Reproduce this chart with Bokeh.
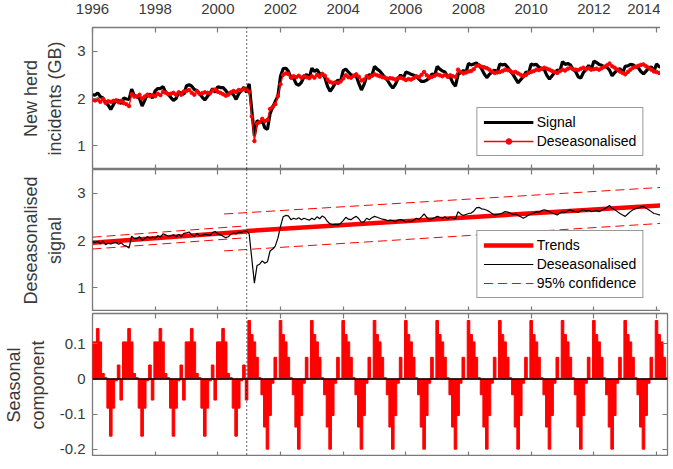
import numpy as np
from bokeh.plotting import figure
from bokeh.layouts import column
from bokeh.models import (Range1d, FixedTicker, LinearAxis, Span, Legend,
                          LegendItem, ColumnDataSource)
from bokeh.embed import file_html
from bokeh.resources import INLINE

# ---------------- data (monthly, starting January 1996) ----------------
START_YEAR = 1996
BREAK_YEAR = 2000.92
YEAR_TICKS = [1996, 1998, 2000, 2002, 2004, 2006, 2008, 2010, 2012, 2014]
Y_TICKS = [1, 2, 3]
SEAS_TICKS = [-0.2, -0.1, 0, 0.1]
SEAS_TICK_LABELS = ["-0.2", "-0.1", "0", "0.1"]

signal = [
    2.08, 2.07, 2.12, 2.04, 2.01, 1.91, 1.86, 1.77, 1.87, 1.96, 1.96, 1.89,
    2.01, 1.99, 1.98, 2.20, 2.06, 2.04, 2.00, 1.84, 1.96, 2.08, 2.09, 2.01,
    2.16, 2.21, 2.21, 2.25, 2.14, 2.09, 2.02, 1.96, 2.00, 2.13, 2.12, 2.09,
    2.27, 2.29, 2.26, 2.19, 2.17, 2.10, 2.03, 1.97, 2.04, 2.11, 2.21, 2.13,
    2.25, 2.23, 2.23, 2.17, 2.10, 2.13, 2.08, 1.98, 2.10, 2.17, 2.24, 2.13,
    2.31, 1.75, 1.21, 1.53, 1.50, 1.53, 1.38, 1.35, 1.68, 1.81, 1.94, 2.05,
    2.47, 2.63, 2.64, 2.58, 2.44, 2.43, 2.31, 2.28, 2.34, 2.46, 2.51, 2.43,
    2.64, 2.57, 2.61, 2.52, 2.52, 2.44, 2.26, 2.15, 2.23, 2.33, 2.39, 2.36,
    2.59, 2.62, 2.56, 2.50, 2.48, 2.47, 2.32, 2.18, 2.30, 2.46, 2.50, 2.48,
    2.68, 2.62, 2.58, 2.51, 2.44, 2.38, 2.29, 2.22, 2.30, 2.42, 2.50, 2.42,
    2.56, 2.54, 2.51, 2.49, 2.47, 2.41, 2.36, 2.36, 2.39, 2.43, 2.52, 2.48,
    2.68, 2.62, 2.58, 2.56, 2.46, 2.45, 2.33, 2.26, 2.51, 2.55, 2.59, 2.55,
    2.74, 2.71, 2.73, 2.75, 2.70, 2.63, 2.52, 2.44, 2.51, 2.56, 2.60, 2.55,
    2.73, 2.71, 2.72, 2.66, 2.58, 2.51, 2.42, 2.33, 2.40, 2.46, 2.56, 2.54,
    2.73, 2.71, 2.72, 2.66, 2.63, 2.61, 2.49, 2.41, 2.48, 2.55, 2.60, 2.58,
    2.78, 2.72, 2.74, 2.71, 2.62, 2.57, 2.46, 2.43, 2.55, 2.61, 2.70, 2.61,
    2.79, 2.76, 2.72, 2.70, 2.67, 2.66, 2.60, 2.48, 2.55, 2.60, 2.63, 2.54,
    2.68, 2.69, 2.72, 2.71, 2.67, 2.65, 2.57, 2.52, 2.58, 2.64, 2.67, 2.57,
    2.73, 2.67, 2.66, 2.59, 2.50,
]

deseasonalised = [
    1.97, 1.96, 1.98, 1.93, 1.99, 1.91, 1.94, 1.93, 1.95, 1.96, 1.92, 1.95,
    1.90, 1.88, 1.84, 2.09, 2.04, 2.04, 2.08, 2.00, 2.04, 2.08, 2.05, 2.07,
    2.05, 2.10, 2.07, 2.14, 2.12, 2.09, 2.10, 2.12, 2.08, 2.13, 2.08, 2.15,
    2.16, 2.18, 2.12, 2.08, 2.15, 2.10, 2.11, 2.13, 2.12, 2.11, 2.17, 2.19,
    2.14, 2.12, 2.09, 2.06, 2.08, 2.13, 2.16, 2.14, 2.18, 2.17, 2.20, 2.19,
    2.14, 1.62, 1.10, 1.47, 1.50, 1.57, 1.52, 1.55, 1.78, 1.82, 1.88, 2.05,
    2.30, 2.50, 2.53, 2.52, 2.44, 2.47, 2.45, 2.48, 2.44, 2.47, 2.45, 2.43,
    2.47, 2.44, 2.50, 2.46, 2.52, 2.48, 2.40, 2.35, 2.33, 2.34, 2.33, 2.36,
    2.42, 2.49, 2.45, 2.44, 2.48, 2.51, 2.46, 2.38, 2.40, 2.47, 2.44, 2.48,
    2.51, 2.49, 2.47, 2.45, 2.44, 2.42, 2.43, 2.42, 2.40, 2.43, 2.44, 2.42,
    2.39, 2.41, 2.40, 2.43, 2.47, 2.45, 2.50, 2.56, 2.49, 2.44, 2.46, 2.48,
    2.51, 2.49, 2.47, 2.50, 2.46, 2.49, 2.47, 2.46, 2.61, 2.56, 2.53, 2.55,
    2.57, 2.58, 2.62, 2.69, 2.70, 2.67, 2.66, 2.64, 2.61, 2.57, 2.54, 2.55,
    2.56, 2.58, 2.61, 2.60, 2.58, 2.55, 2.56, 2.53, 2.50, 2.47, 2.50, 2.54,
    2.56, 2.58, 2.61, 2.60, 2.63, 2.65, 2.63, 2.61, 2.58, 2.56, 2.54, 2.58,
    2.61, 2.59, 2.63, 2.65, 2.62, 2.61, 2.60, 2.63, 2.65, 2.62, 2.64, 2.61,
    2.62, 2.63, 2.61, 2.64, 2.67, 2.70, 2.74, 2.68, 2.65, 2.61, 2.57, 2.54,
    2.51, 2.56, 2.61, 2.65, 2.67, 2.69, 2.71, 2.72, 2.68, 2.65, 2.61, 2.57,
    2.56, 2.54, 2.55, 2.53, 2.50,
]

seasonal = [
    0.106, 0.106, 0.144, 0.106, 0.016, 0.004, -0.083, -0.163, -0.083, -0.005, 0.040, -0.060,
    0.106, 0.106, 0.144, 0.106, 0.016, 0.004, -0.083, -0.163, -0.083, -0.005, 0.040, -0.060,
    0.106, 0.106, 0.144, 0.106, 0.016, 0.004, -0.083, -0.163, -0.083, -0.005, 0.040, -0.060,
    0.106, 0.106, 0.144, 0.106, 0.016, 0.004, -0.083, -0.163, -0.083, -0.005, 0.040, -0.060,
    0.106, 0.106, 0.144, 0.106, 0.016, 0.004, -0.083, -0.163, -0.083, -0.005, 0.040, -0.060,
    0.167, 0.127, 0.106, 0.062, 0.004, -0.045, -0.137, -0.200, -0.104, -0.012, 0.062, 0.002,
    0.167, 0.127, 0.106, 0.062, 0.004, -0.045, -0.137, -0.200, -0.104, -0.012, 0.062, 0.002,
    0.167, 0.127, 0.106, 0.062, 0.004, -0.045, -0.137, -0.200, -0.104, -0.012, 0.062, 0.002,
    0.167, 0.127, 0.106, 0.062, 0.004, -0.045, -0.137, -0.200, -0.104, -0.012, 0.062, 0.002,
    0.167, 0.127, 0.106, 0.062, 0.004, -0.045, -0.137, -0.200, -0.104, -0.012, 0.062, 0.002,
    0.167, 0.127, 0.106, 0.062, 0.004, -0.045, -0.137, -0.200, -0.104, -0.012, 0.062, 0.002,
    0.167, 0.127, 0.106, 0.062, 0.004, -0.045, -0.137, -0.200, -0.104, -0.012, 0.062, 0.002,
    0.167, 0.127, 0.106, 0.062, 0.004, -0.045, -0.137, -0.200, -0.104, -0.012, 0.062, 0.002,
    0.167, 0.127, 0.106, 0.062, 0.004, -0.045, -0.137, -0.200, -0.104, -0.012, 0.062, 0.002,
    0.167, 0.127, 0.106, 0.062, 0.004, -0.045, -0.137, -0.200, -0.104, -0.012, 0.062, 0.002,
    0.167, 0.127, 0.106, 0.062, 0.004, -0.045, -0.137, -0.200, -0.104, -0.012, 0.062, 0.002,
    0.167, 0.127, 0.106, 0.062, 0.004, -0.045, -0.137, -0.200, -0.104, -0.012, 0.062, 0.002,
    0.167, 0.127, 0.106, 0.062, 0.004, -0.045, -0.137, -0.200, -0.104, -0.012, 0.062, 0.002,
    0.167, 0.127, 0.106, 0.062, 0.004,
]

# fitted trends (before / after the break) and 95% confidence bounds
trend_pre_t = [1996.0, 2000.92]
trend_pre = [1.95, 2.19]
trend_post_t = [2000.92, 2014.35]
trend_post = [2.20, 2.75]
conf_pre_t = [1996.0, 2000.92]
conf_pre_upper = [2.07, 2.31]
conf_pre_lower = [1.82, 2.06]
conf_post_t = [2000.20, 2014.35]
conf_post_upper = [2.56, 3.13]
conf_post_lower = [1.78, 2.37]

# ---------------- styling ----------------
FONT = "Liberation Sans"
BOX = "#7a7a7a"
TXT = "#3a3a3a"
RED = "#ff0000"
X_START, X_END = 1996.0, 2014.35

t = START_YEAR + np.arange(len(signal)) / 12.0
src = ColumnDataSource(dict(t=t, signal=signal, deseas=deseasonalised,
                            seasonal=seasonal))

xr = Range1d(X_START, X_END)
LEFT = 82
FRAME_W = 575


def make_fig(frame_h, yr, top, bottom):
    p = figure(frame_width=FRAME_W, frame_height=frame_h, x_range=xr,
               y_range=yr, output_backend="svg", toolbar_location=None,
               x_axis_location=None, y_axis_location=None,
               min_border_left=LEFT, min_border_right=3,
               min_border_top=top, min_border_bottom=bottom)
    p.xgrid.visible = False
    p.ygrid.visible = False
    p.outline_line_color = BOX
    p.outline_line_width = 1.3
    p.background_fill_color = "white"
    p.border_fill_color = "white"
    return p


def style_axis(ax, ticks, show_labels, fixed=None, standoff=7):
    ax.ticker = FixedTicker(ticks=ticks)
    ax.axis_line_color = None
    ax.major_tick_in = 5
    ax.major_tick_out = 0
    ax.major_tick_line_color = BOX
    ax.major_tick_line_width = 1.2
    ax.minor_tick_line_color = None
    ax.major_label_text_font = FONT
    ax.major_label_text_color = TXT
    if show_labels:
        ax.major_label_text_font_size = "15px"
        ax.major_label_standoff = standoff
    else:
        ax.major_label_text_font_size = "0px"
        ax.major_label_standoff = 0
        ax.major_label_text_alpha = 0
        ax.fixed_location = fixed


def add_axes(p, yr, yticks, ylabel, top_labels=False, ylabels=None):
    top = LinearAxis()
    style_axis(top, YEAR_TICKS, top_labels, fixed=yr.end, standoff=14)
    p.add_layout(top, "above")
    bottom = LinearAxis()
    style_axis(bottom, YEAR_TICKS, False, fixed=yr.start)
    p.add_layout(bottom, "below")
    left = LinearAxis(axis_label=ylabel)
    style_axis(left, yticks, True)
    left.axis_label_text_font = FONT
    left.axis_label_text_font_size = "18px"
    left.axis_label_text_font_style = "normal"
    left.axis_label_text_color = TXT
    left.axis_label_standoff = 9
    if ylabels is not None:
        left.major_label_overrides = dict(zip(yticks, ylabels))
    p.add_layout(left, "left")
    right = LinearAxis()
    style_axis(right, yticks, False, fixed=X_END)
    p.add_layout(right, "right")
    p.add_layout(Span(location=BREAK_YEAR, dimension="height",
                      line_color="black", line_width=1.2, line_dash="1 3"))


def style_legend(leg):
    leg.location = "bottom_right"
    leg.margin = 13
    leg.padding = 6
    leg.spacing = 3
    leg.glyph_width = 50
    leg.glyph_height = 14
    leg.label_height = 14
    leg.label_standoff = 3
    leg.label_text_font = FONT
    leg.label_text_font_size = "14px"
    leg.label_text_color = "black"
    leg.border_line_color = "#333333"
    leg.border_line_width = 1
    leg.background_fill_color = "white"
    leg.background_fill_alpha = 1


# ---------------- panel 1: signal ----------------
yr1 = Range1d(0.5, 3.5)
p1 = make_fig(142, yr1, 0, 0)
r_sig = p1.line("t", "signal", source=src, line_color="black", line_width=3.2)
r_des = p1.line("t", "deseas", source=src, line_color=RED, line_width=1.3)
r_des_pts = p1.scatter("t", "deseas", source=src, size=3.5, marker="circle",
                       line_color=RED, fill_color=RED)
add_axes(p1, yr1, Y_TICKS, "New herd\nincidents (GB)", top_labels=True)
leg1 = Legend(items=[LegendItem(label="Signal", renderers=[r_sig]),
                     LegendItem(label="Deseasonalised",
                                renderers=[r_des, r_des_pts])])
style_legend(leg1)
p1.add_layout(leg1)

# ---------------- panel 2: deseasonalised + trends ----------------
yr2 = Range1d(0.5, 3.5)
p2 = make_fig(142, yr2, 0, 0)
dash = dict(line_color=RED, line_width=1, line_dash="9 5")
r_conf = p2.line(conf_pre_t, conf_pre_upper, **dash)
p2.line(conf_pre_t, conf_pre_lower, **dash)
p2.line(conf_post_t, conf_post_upper, **dash)
p2.line(conf_post_t, conf_post_lower, **dash)
r_trend = p2.line(trend_pre_t, trend_pre, line_color=RED, line_width=4.5)
p2.line(trend_post_t, trend_post, line_color=RED, line_width=4.5)
r_d2 = p2.line("t", "deseas", source=src, line_color="black", line_width=1.2)
add_axes(p2, yr2, Y_TICKS, "Deseasonalised\nsignal")
leg2 = Legend(items=[LegendItem(label="Trends", renderers=[r_trend]),
                     LegendItem(label="Deseasonalised", renderers=[r_d2]),
                     LegendItem(label="95% confidence", renderers=[r_conf])])
style_legend(leg2)
p2.add_layout(leg2)

# ---------------- panel 3: seasonal component ----------------
yr3 = Range1d(-0.221, 0.187)
p3 = make_fig(143, yr3, 2, 0)
p3.vbar(x="t", top="seasonal", bottom=0, width=1 / 12.0, source=src,
        fill_color=RED, line_color=RED, line_width=1)
p3.add_layout(Span(location=0, dimension="width", line_color="black",
                   line_width=1.5))
add_axes(p3, yr3, SEAS_TICKS, "Seasonal\ncomponent", ylabels=SEAS_TICK_LABELS)

# negative bottom margin keeps the page from growing taller than the window
layout = column(p1, p2, p3, spacing=0, margin=(0, 0, -16, 0))
open("out.html", "w").write(file_html(layout, INLINE))
